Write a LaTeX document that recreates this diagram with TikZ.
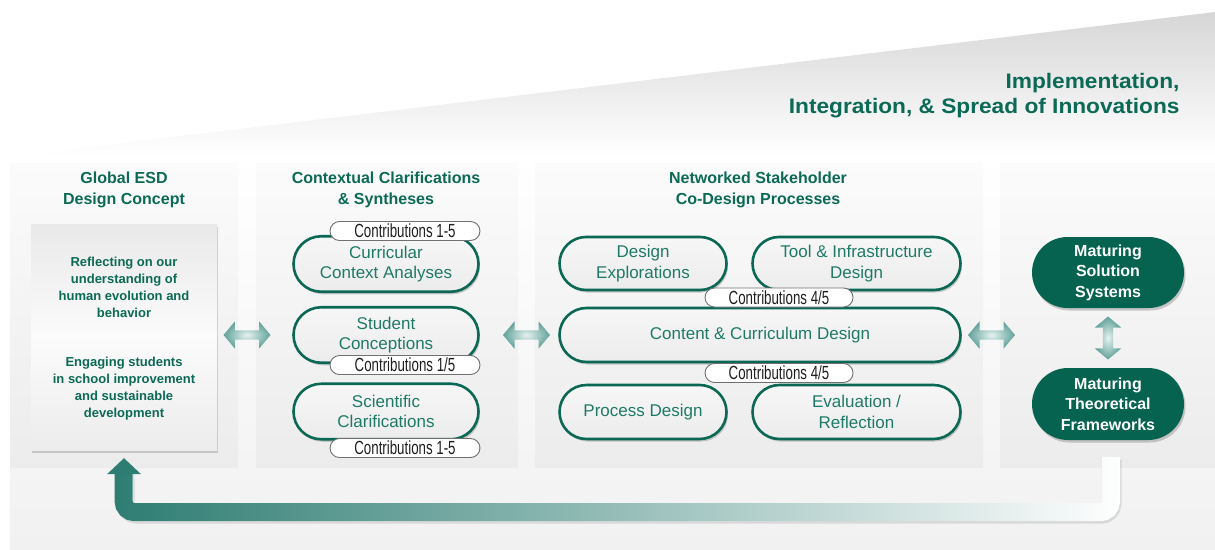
\documentclass[tikz,border=0pt]{standalone}
\usepackage{fontspec}
\setmainfont{Liberation Sans}
\newfontfamily\condfont[FakeStretch=0.70]{Liberation Sans}
\newfontfamily\titlefont[FakeStretch=1.08]{Liberation Sans}
\usetikzlibrary{shapes.misc,shapes.arrows,shadows,calc,fadings}

\definecolor{tealhead}{HTML}{0B6A56}
\definecolor{tealline}{HTML}{0A6854}
\definecolor{tealtext}{HTML}{1E7A67}
\definecolor{tealfill}{HTML}{05634F}
\definecolor{looptail}{HTML}{2E7D73}
\definecolor{arrowedge}{HTML}{62A29A}
\definecolor{arrowcore}{HTML}{E6F2F0}
\definecolor{labelline}{HTML}{707070}
\definecolor{paneltop}{HTML}{FBFBFB}
\definecolor{panelbot}{HTML}{ECECEC}
\definecolor{boxtop}{HTML}{E9E9E9}
\definecolor{bgbot}{HTML}{F1F1F1}
\definecolor{wedgetop}{HTML}{D6D6D6}

\tikzfading[name=loopfade, left color=transparent!0, right color=transparent!100]

\tikzset{
  panel/.style={rectangle, inner sep=0pt, top color=paneltop, bottom color=panelbot},
  header/.style={text=tealhead, align=center, font=\bfseries\fontsize{16}{21}\selectfont},
  boxtext/.style={text=tealhead, align=center, font=\bfseries\fontsize{13}{17}\selectfont},
  titletext/.style={text=tealhead, font=\titlefont\bfseries\fontsize{21}{25}\selectfont},
  conceptbox/.style={rectangle, inner sep=0pt, top color=boxtop, bottom color=panelbot,
    middle color=paneltop,
    drop shadow={shadow xshift=0.5pt, shadow yshift=-2.5pt, opacity=0.35}},
  pill/.style={rounded rectangle, draw=tealline, line width=2.6pt, inner sep=0pt,
    top color=paneltop!70!panelbot, bottom color=panelbot,
    text=tealtext, align=center, font=\fontsize{17}{20.5}\selectfont,
    drop shadow={shadow xshift=1.5pt, shadow yshift=-2.5pt, opacity=0.4}},
  darkpill/.style={rounded rectangle, fill=tealfill, inner sep=0pt,
    text=white, align=center, font=\bfseries\fontsize{16}{20.5}\selectfont,
    drop shadow={shadow xshift=1.5pt, shadow yshift=-2.5pt, opacity=0.4}},
  contrib/.style={rounded rectangle, draw=labelline, line width=0.9pt, fill=white,
    inner sep=0pt, minimum width=148pt, minimum height=19pt,
    text=black!88, font=\condfont\fontsize{19}{19}\selectfont},
  dblarrow/.style={double arrow, draw=none, inner sep=4.5pt,
    double arrow head extend=9pt, double arrow tip angle=100,
    inner color=arrowcore, outer color=arrowedge},
}

\begin{document}
\begin{tikzpicture}[x=1pt,y=-1pt]
\useasboundingbox (0,0) rectangle (1215,549);

% backdrop and the rising wedge
\shade[top color=white, bottom color=bgbot] (10,155) rectangle (1215,549);
\shade[top color=wedgetop, bottom color=white] (22,155) -- (1215,12) -- (1215,155) -- cycle;

\node[titletext, anchor=base east] (ti1) at (1183,88) {Implementation,};
\node[titletext, anchor=base east] (ti2) at (1183,113) {Integration, \& Spread of Innovations};

% four column panels
\node[panel, minimum width=228pt, minimum height=304pt] (p1) at (124,315) {};
\node[panel, minimum width=262pt, minimum height=304pt] (p2) at (387,315) {};
\node[panel, minimum width=448pt, minimum height=304pt] (p3) at (759,315) {};
\node[panel, minimum width=215pt, minimum height=304pt] (p4) at (1107.5,315) {};

% column headers
\node[header] (h1) at (124,190) {Global ESD\\Design Concept};
\node[header] (h2) at (386,190) {Contextual Clarifications\\\& Syntheses};
\node[header] (h3) at (758,190) {Networked Stakeholder\\Co-Design Processes};

% global design concept
\node[conceptbox, minimum width=186pt, minimum height=226pt] (b1) at (124,337) {};
\node[boxtext] (t1) at (124,287) {Reflecting on our\\understanding of\\human evolution and\\behavior};
\node[boxtext] (t2) at (124,388.5) {Engaging students\\in school improvement\\and sustainable\\development};

% contextual clarifications
\node[pill, minimum width=185pt, minimum height=55.5pt] (q1) at (386,264) {Curricular\\Context Analyses};
\node[pill, minimum width=185pt, minimum height=55.5pt] (q2) at (386,335) {Student\\Conceptions};
\node[pill, minimum width=185pt, minimum height=55.5pt] (q3) at (386,411.5) {Scientific\\Clarifications};
\node[contrib, minimum width=150pt] (c1) at (405,231) {Contributions 1-5};
\node[contrib, minimum width=150pt] (c2) at (405,365) {Contributions 1/5};
\node[contrib, minimum width=150pt] (c3) at (405,448) {Contributions 1-5};

% co-design processes
\node[pill, minimum width=167pt, minimum height=53pt] (r1) at (643,263.5) {Design\\Explorations};
\node[pill, minimum width=208pt, minimum height=53pt] (r2) at (856.5,263.5) {Tool \& Infrastructure\\Design};
\node[pill, minimum width=401pt, minimum height=54pt] (r3) at (760,335) {Content \& Curriculum Design};
\node[pill, minimum width=167pt, minimum height=54pt] (r4) at (643,412) {Process Design};
\node[pill, minimum width=208pt, minimum height=54pt] (r5) at (856.5,412) {Evaluation /\\Reflection};
\node[contrib] (c4) at (779,297.5) {Contributions 4/5};
\node[contrib] (c5) at (779,373) {Contributions 4/5};

% maturing outcomes
\node[darkpill, minimum width=152pt, minimum height=71pt] (m1) at (1108,272.5) {Maturing\\Solution\\Systems};
\node[darkpill, minimum width=152pt, minimum height=72pt] (m2) at (1108,404) {Maturing\\Theoretical\\Frameworks};

% exchanges between the columns
\coordinate (g12) at ($(p1.east)!0.5!(p2.west)$);
\coordinate (g23) at ($(p2.east)!0.5!(p3.west)$);
\coordinate (g34) at ($(p3.east)!0.5!(p4.west)$);
\node[dblarrow, minimum height=47pt] (a1) at (g12 |- q2) {};
\node[dblarrow, minimum height=47pt] (a2) at (g23 |- q2) {};
\node[dblarrow, minimum height=47pt] (a3) at (g34 |- q2) {};
\node[dblarrow, minimum height=43pt, rotate=90, inner sep=5pt, double arrow head extend=8pt]
  (av) at ($(m1.south)!0.5!(m2.north)$) {};

% feedback loop back to the design concept
\coordinate (ls) at ($(m2.south)+(3,17)$);
\coordinate (lt) at ($(b1.south)+(0,8)$);
\coordinate (lb) at ($(lt)+(0,54)$);
\coordinate (lh) at ($(lt)+(0,14)$);
\draw[transform canvas={xshift=1.5pt, yshift=-2.5pt}, line width=18pt, black, opacity=0.10,
  rounded corners=11pt] (ls) |- (lb) -- (lh);
\draw[line width=18pt, white, rounded corners=11pt] (ls) |- (lb) -- (lh);
\draw[line width=18pt, looptail, rounded corners=11pt, path fading=loopfade] (ls) |- (lb) -- (lh);
\fill[looptail] ($(lt)+(-17,16)$) -- (lt) -- ($(lt)+(17,16)$) -- cycle;
\end{tikzpicture}
\end{document}
